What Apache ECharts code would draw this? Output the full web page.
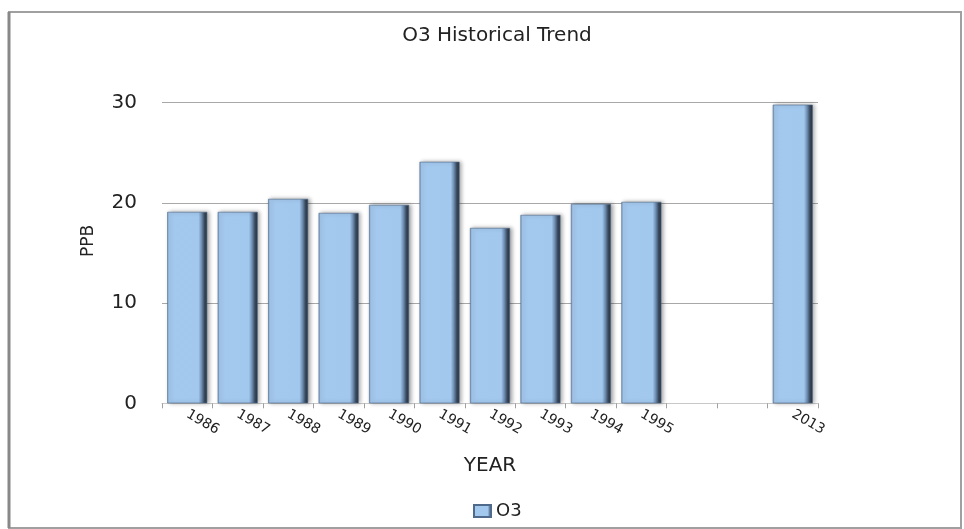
<!DOCTYPE html>
<html>
<head>
<meta charset="utf-8">
<script src="https://cdn.jsdelivr.net/npm/echarts@6/dist/echarts.min.js"></script>
<style>
html,body{margin:0;padding:0;background:#fff;}
#chart{width:964px;height:529px;}
</style>
</head>
<body>
<div id="chart"></div>
<script>
var titleText = 'O3 Historical Trend';
var seriesName = 'O3';
var categories = ['1986','1987','1988','1989','1990','1991','1992','1993','1994','1995','',' ','2013'];
var o3Values = [19.1, 19.1, 20.4, 19.0, 19.8, 24.1, 17.5, 18.8, 19.9, 20.1, null, null, 29.8];
var yTicks = [0, 10, 20, 30];
var xAxisName = 'YEAR';
var yAxisName = 'PPB';

var chart = echarts.init(document.getElementById('chart'));
var barGradient = new echarts.graphic.LinearGradient(0, 0, 1, 0, [
  {offset: 0, color: '#7c9fc8'},
  {offset: 0.05, color: '#a4c9ee'},
  {offset: 0.78, color: '#a2c8ee'},
  {offset: 0.86, color: '#6d8cb0'},
  {offset: 0.93, color: '#3a4a5e'},
  {offset: 1, color: '#253140'}
]);
chart.setOption({
  backgroundColor: '#ffffff',
  animation: false,
  textStyle: {fontFamily: 'DejaVu Sans'},
  graphic: [{
    type: 'rect',
    shape: {x: 9, y: 12, width: 952, height: 516},
    style: {fill: 'none', stroke: '#a0a0a0', lineWidth: 2},
    silent: true
  }, {
    type: 'line',
    shape: {x1: 9, y1: 12, x2: 9, y2: 528},
    style: {stroke: '#888888', lineWidth: 3},
    silent: true
  }],
  title: {
    text: titleText,
    left: 492,
    textAlign: 'center',
    top: 21,
    textStyle: {fontSize: 20, fontWeight: 'normal', color: '#222', fontFamily: 'DejaVu Sans'}
  },
  legend: {
    data: [seriesName],
    bottom: 4,
    left: 468,
    icon: 'rect',
    itemWidth: 17,
    itemHeight: 12,
    itemGap: 6,
    textStyle: {fontSize: 18, color: '#222', fontFamily: 'DejaVu Sans'}
  },
  grid: {left: 162, right: 146, top: 102.7, bottom: 125.7},
  xAxis: {
    type: 'category',
    data: categories,
    name: xAxisName,
    nameLocation: 'middle',
    nameGap: 52,
    nameTextStyle: {fontSize: 20, color: '#222', verticalAlign: 'top'},
    axisLine: {show: true, lineStyle: {color: '#c8c8c8', width: 1}},
    axisTick: {show: true, alignWithLabel: false, length: 5, lineStyle: {color: '#a0a0a0'}},
    axisLabel: {rotate: -30, margin: 10, fontSize: 14, color: '#222', interval: 0}
  },
  yAxis: {
    type: 'value',
    min: yTicks[0],
    max: yTicks[yTicks.length - 1],
    interval: 10,
    name: yAxisName,
    nameLocation: 'middle',
    nameGap: 65,
    nameRotate: 90,
    nameTextStyle: {fontSize: 17, color: '#222', padding: [0, 0, 0, 24]},
    axisLine: {show: false},
    axisTick: {show: false},
    axisLabel: {fontSize: 20, color: '#222', margin: 25},
    splitLine: {lineStyle: {color: '#a8a8a8', width: 1}}
  },
  series: [{
    name: seriesName,
    type: 'bar',
    data: o3Values,
    barWidth: 40,
    itemStyle: {
      color: barGradient,
      borderColor: '#4f6a8a',
      borderWidth: 0.6,
      shadowColor: 'rgba(0,0,0,0.35)',
      shadowBlur: 4,
      shadowOffsetX: 2,
      shadowOffsetY: 0
    }
  }]
});
</script>
</body>
</html>
